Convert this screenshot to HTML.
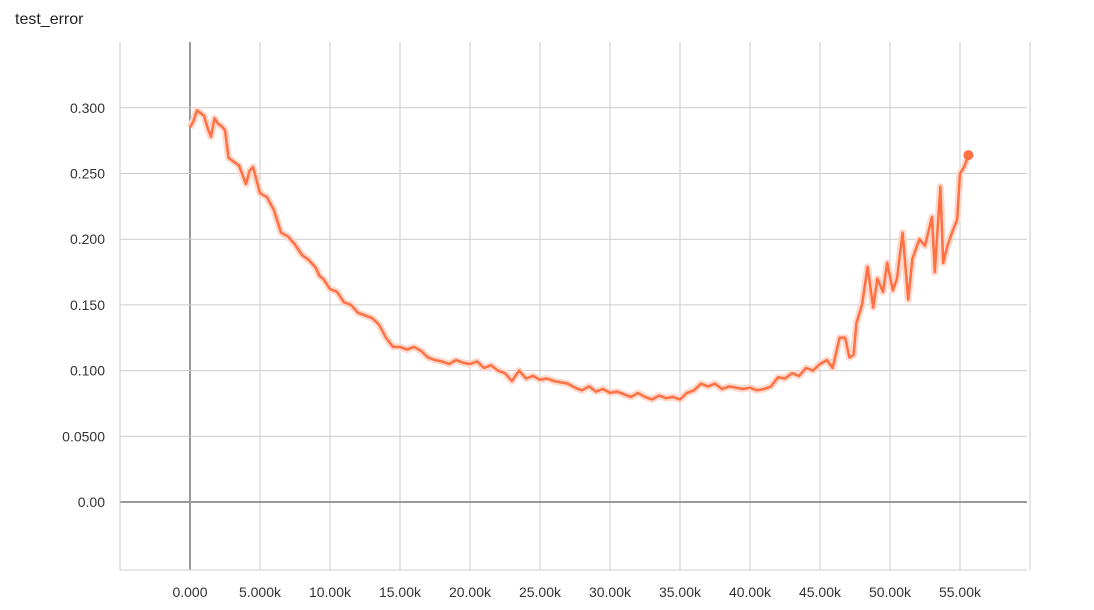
<!DOCTYPE html>
<html><head><meta charset="utf-8"><style>
body{margin:0;background:#fff;font-family:"Liberation Sans",sans-serif;}
svg text{font-family:"Liberation Sans",sans-serif;}
</style></head><body>
<svg id="chart" width="1094" height="605">
<text x="15" y="24" font-size="16" fill="#222">test_error</text>
</svg>
<script>
const steps=[0,250,500,750,1000,1250,1500,1750,2000,2250,2500,2750,3000,3500,4000,4250,4500,5000,5500,6000,6500,7000,7500,8000,8500,9000,9250,9500,10000,10500,11000,11500,12000,12500,13000,13500,14000,14500,15000,15500,16000,16500,17000,17500,18000,18500,19000,19500,20000,20500,21000,21500,22000,22500,23000,23500,24000,24500,25000,25500,26000,26500,27000,27500,28000,28500,29000,29500,30000,30500,31000,31500,32000,32500,33000,33500,34000,34500,35000,35500,36000,36500,37000,37500,38000,38500,39000,39500,40000,40500,41000,41500,42000,42500,43000,43500,44000,44500,45000,45500,45900,46400,46800,47100,47400,47600,48000,48400,48800,49100,49500,49800,50200,50500,50900,51300,51600,52100,52500,53000,53200,53600,53800,54100,54500,54800,55000,55300,55600];
const values=[0.285,0.290,0.298,0.296,0.294,0.285,0.278,0.292,0.288,0.286,0.283,0.262,0.260,0.256,0.242,0.252,0.255,0.235,0.232,0.222,0.205,0.202,0.196,0.188,0.184,0.178,0.172,0.170,0.162,0.160,0.152,0.150,0.144,0.142,0.140,0.135,0.125,0.118,0.118,0.116,0.118,0.115,0.110,0.108,0.107,0.105,0.108,0.106,0.105,0.107,0.102,0.104,0.100,0.098,0.092,0.100,0.094,0.096,0.093,0.094,0.092,0.091,0.090,0.087,0.085,0.088,0.084,0.086,0.083,0.084,0.082,0.080,0.083,0.080,0.078,0.081,0.079,0.080,0.078,0.083,0.085,0.090,0.088,0.090,0.086,0.088,0.087,0.086,0.087,0.085,0.086,0.088,0.095,0.094,0.098,0.096,0.102,0.100,0.105,0.108,0.102,0.125,0.125,0.110,0.112,0.136,0.150,0.179,0.148,0.170,0.160,0.182,0.161,0.170,0.205,0.154,0.185,0.200,0.195,0.217,0.175,0.240,0.182,0.195,0.207,0.215,0.250,0.255,0.264];
const yTicks=[0,0.05,0.1,0.15,0.2,0.25,0.3];
const yTickLabels=["0.00","0.0500","0.100","0.150","0.200","0.250","0.300"];
const xTicks=[0,5000,10000,15000,20000,25000,30000,35000,40000,45000,50000,55000];
const xTickLabels=["0.000","5.000k","10.00k","15.00k","20.00k","25.00k","30.00k","35.00k","40.00k","45.00k","50.00k","55.00k"];

const svg=document.getElementById('chart');
const NS='http://www.w3.org/2000/svg';
const L=120,R=1027,T=42,B=570;
const xS=s=>190+s*70/5000;
const yS=v=>502-v*1314;
function mk(tag,attrs){const e=document.createElementNS(NS,tag);for(const k in attrs)e.setAttribute(k,attrs[k]);svg.appendChild(e);return e;}
// vertical grid
for(let s=-5000;s<=60000;s+=5000){
  const g=mk('line',{x1:xS(s),x2:xS(s),y1:T,y2:B,stroke:s===0?'#999':'#ccc','stroke-width':s===0?2:1});
  
  
}
yTicks.forEach((v,i)=>{
  const g=mk('line',{x1:L,x2:R,y1:yS(v),y2:yS(v),stroke:v===0?'#999':'#ccc','stroke-width':v===0?2:1});
  
  
  const t=mk('text',{x:105,y:yS(v)+5,'text-anchor':'end','font-size':14,fill:'#333'});
  t.textContent=yTickLabels[i];
  
  
});
const ax=mk('line',{x1:L,x2:L,y1:T,y2:B,stroke:'#ccc'});


const axb=mk('line',{x1:L,x2:R,y1:B,y2:B,stroke:'#ccc'});


xTicks.forEach((s,i)=>{
  const t=mk('text',{x:xS(s),y:597,'text-anchor':'middle','font-size':14,fill:'#333'});
  t.textContent=xTickLabels[i];
  
  
});
const d=steps.map((s,i)=>(i?'L':'M')+xS(s).toFixed(1)+','+yS(values[i]).toFixed(1)).join(' ');
const band=mk('path',{d:d,fill:'none',stroke:'#fcd9cc','stroke-width':7,'stroke-linejoin':'round'});


const line=mk('path',{d:d,fill:'none',stroke:'#ff7043','stroke-width':2.5,'stroke-linejoin':'round'});


const n=steps.length-1;
const dot=mk('circle',{cx:xS(steps[n]),cy:yS(values[n]),r:5,fill:'#ff7043'});


</script>
</body></html>
